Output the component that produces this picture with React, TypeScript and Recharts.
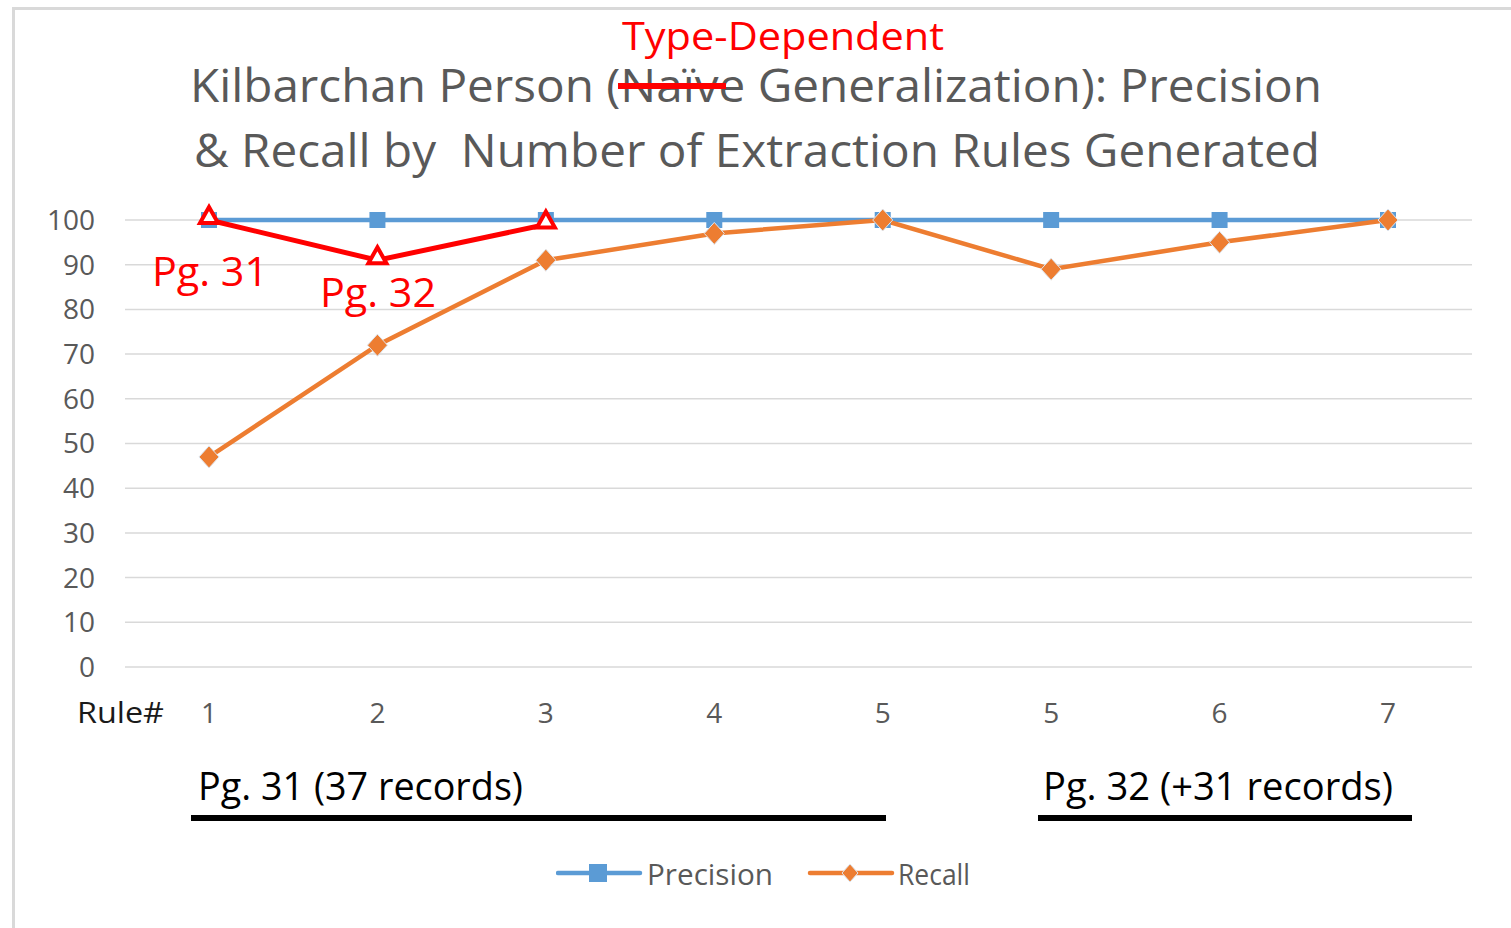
import { CartesianGrid, Legend, Line, LineChart, XAxis, YAxis } from "recharts";

const rules = ["1", "2", "3", "4", "5", "5", "6", "7"];
const precision = [100, 100, 100, 100, 100, 100, 100, 100];
const recall = [47, 72, 91, 97, 100, 89, 95, 100];
// hand-drawn red overlay (type-dependent generalization)
const typeDependent = [100, 91, 99, null, null, null, null, null];
const yTicks = [0, 10, 20, 30, 40, 50, 60, 70, 80, 90, 100];

const data = rules.map((rule, i) => ({
  rule,
  precision: precision[i],
  recall: recall[i],
  typeDependent: typeDependent[i],
}));

const BLUE = "#5b9bd5";
const ORANGE = "#ed7d31";
const RED = "#ff0000";
const GRAY = "#595959";
const FONT = "'Open Sans', sans-serif";

const SquareDot = (props: any) => {
  const { cx, cy, index } = props;
  if (cx == null || cy == null) return <g key={index} />;
  return <rect key={index} x={cx - 8} y={cy - 8} width={16} height={16} fill={BLUE} />;
};

const DiamondDot = (props: any) => {
  const { cx, cy, index } = props;
  if (cx == null || cy == null) return <g key={index} />;
  return (
    <polygon
      key={index}
      points={`${cx},${cy - 11} ${cx + 10},${cy} ${cx},${cy + 11} ${cx - 10},${cy}`}
      fill={ORANGE}
      stroke="#dde6f0"
      strokeWidth={1}
    />
  );
};

const TriangleDot = (props: any) => {
  const { cx, cy, index, value } = props;
  if (cx == null || cy == null || value == null) return <g key={index} />;
  return (
    <polygon
      key={index}
      points={`${cx},${cy - 13} ${cx + 9},${cy + 3} ${cx - 9},${cy + 3}`}
      fill="#ffffff"
      stroke={RED}
      strokeWidth={4}
    />
  );
};

const renderLegend = () => (
  <svg width={420} height={40} style={{ display: "block" }}>
    <line x1={2} x2={84} y1={19} y2={19} stroke={BLUE} strokeWidth={4.5} strokeLinecap="round" />
    <rect x={33} y={10} width={18} height={18} fill={BLUE} />
    <text x={91} y={31} fontSize={29} fontFamily={FONT} fill={GRAY} textLength={126} lengthAdjust="spacingAndGlyphs">
      Precision
    </text>
    <line x1={254} x2={336} y1={19} y2={19} stroke={ORANGE} strokeWidth={4.5} strokeLinecap="round" />
    <polygon points="294,10 302,19 294,28 286,19" fill={ORANGE} stroke="#dde6f0" strokeWidth={1} />
    <text x={342} y={31} fontSize={29} fontFamily={FONT} fill={GRAY} textLength={72} lengthAdjust="spacingAndGlyphs">
      Recall
    </text>
  </svg>
);

export default function App() {
  return (
    <div style={{ position: "absolute", left: 0, top: 0, width: 1511, height: 928, background: "#fff" }}>
      <LineChart width={1511} height={928} data={data} margin={{ top: 220, right: 39, bottom: 201, left: 0 }}>
        <CartesianGrid vertical={false} stroke="#d9d9d9" strokeWidth={1.5} />
        <XAxis
          dataKey="rule"
          interval={0}
          height={60}
          tickLine={false}
          axisLine={false}
          tickSize={0}
          tickMargin={36}
          padding={{ left: 84, right: 84 }}
          tick={{ fill: GRAY, fontSize: 28, fontFamily: FONT }}
        />
        <YAxis
          width={125}
          domain={[0, 100]}
          ticks={yTicks}
          interval={0}
          tickLine={false}
          axisLine={false}
          tickSize={0}
          tickMargin={30}
          tick={{ fill: GRAY, fontSize: 28, fontFamily: FONT }}
        />
        <Legend
          verticalAlign="middle"
          align="center"
          content={renderLegend}
          wrapperStyle={{ left: 556, top: 854, width: 420, height: 40 }}
        />
        <Line
          dataKey="precision"
          name="Precision"
          stroke={BLUE}
          strokeWidth={4.5}
          dot={SquareDot}
          activeDot={false}
          isAnimationActive={false}
        />
        <Line
          dataKey="recall"
          name="Recall"
          stroke={ORANGE}
          strokeWidth={4.5}
          dot={DiamondDot}
          activeDot={false}
          isAnimationActive={false}
        />
        <Line
          dataKey="typeDependent"
          legendType="none"
          stroke={RED}
          strokeWidth={5}
          dot={TriangleDot}
          activeDot={false}
          connectNulls={false}
          isAnimationActive={false}
        />
      </LineChart>

      <svg
        width={1511}
        height={928}
        style={{ position: "absolute", left: 0, top: 0, pointerEvents: "none" }}
        fontFamily={FONT}
      >
        <line x1={12} x2={1511} y1={8.5} y2={8.5} stroke="#d9d9d9" strokeWidth={3} />
        <line x1={13.5} x2={13.5} y1={7} y2={928} stroke="#d9d9d9" strokeWidth={3} />

        <text x={190} y={102} fontSize={46} fill={GRAY} textLength={1132} lengthAdjust="spacingAndGlyphs">
          Kilbarchan Person (Naïve Generalization): Precision
        </text>
        <text
          x={194}
          y={167}
          fontSize={46}
          fill={GRAY}
          textLength={1126}
          lengthAdjust="spacingAndGlyphs"
          style={{ whiteSpace: "pre" }}
        >
          {"& Recall by  Number of Extraction Rules Generated"}
        </text>

        <text x={622} y={50} fontSize={39} fill={RED} textLength={322} lengthAdjust="spacingAndGlyphs">
          Type-Dependent
        </text>
        <line x1={618} x2={726} y1={86} y2={86} stroke={RED} strokeWidth={6} />

        <text x={152} y={286} fontSize={40} fill={RED} textLength={116} lengthAdjust="spacingAndGlyphs">
          Pg. 31
        </text>
        <text x={320} y={307} fontSize={40} fill={RED} textLength={116} lengthAdjust="spacingAndGlyphs">
          Pg. 32
        </text>

        <text x={77} y={723} fontSize={29} fill="#1a1a1a" textLength={87} lengthAdjust="spacingAndGlyphs">
          Rule#
        </text>

        <text x={198} y={800} fontSize={38} fill="#000" textLength={325} lengthAdjust="spacingAndGlyphs">
          Pg. 31 (37 records)
        </text>
        <rect x={191} y={815} width={695} height={6} fill="#000" />
        <text x={1043} y={800} fontSize={38} fill="#000" textLength={350} lengthAdjust="spacingAndGlyphs">
          Pg. 32 (+31 records)
        </text>
        <rect x={1038} y={815} width={374} height={6} fill="#000" />
      </svg>
    </div>
  );
}
